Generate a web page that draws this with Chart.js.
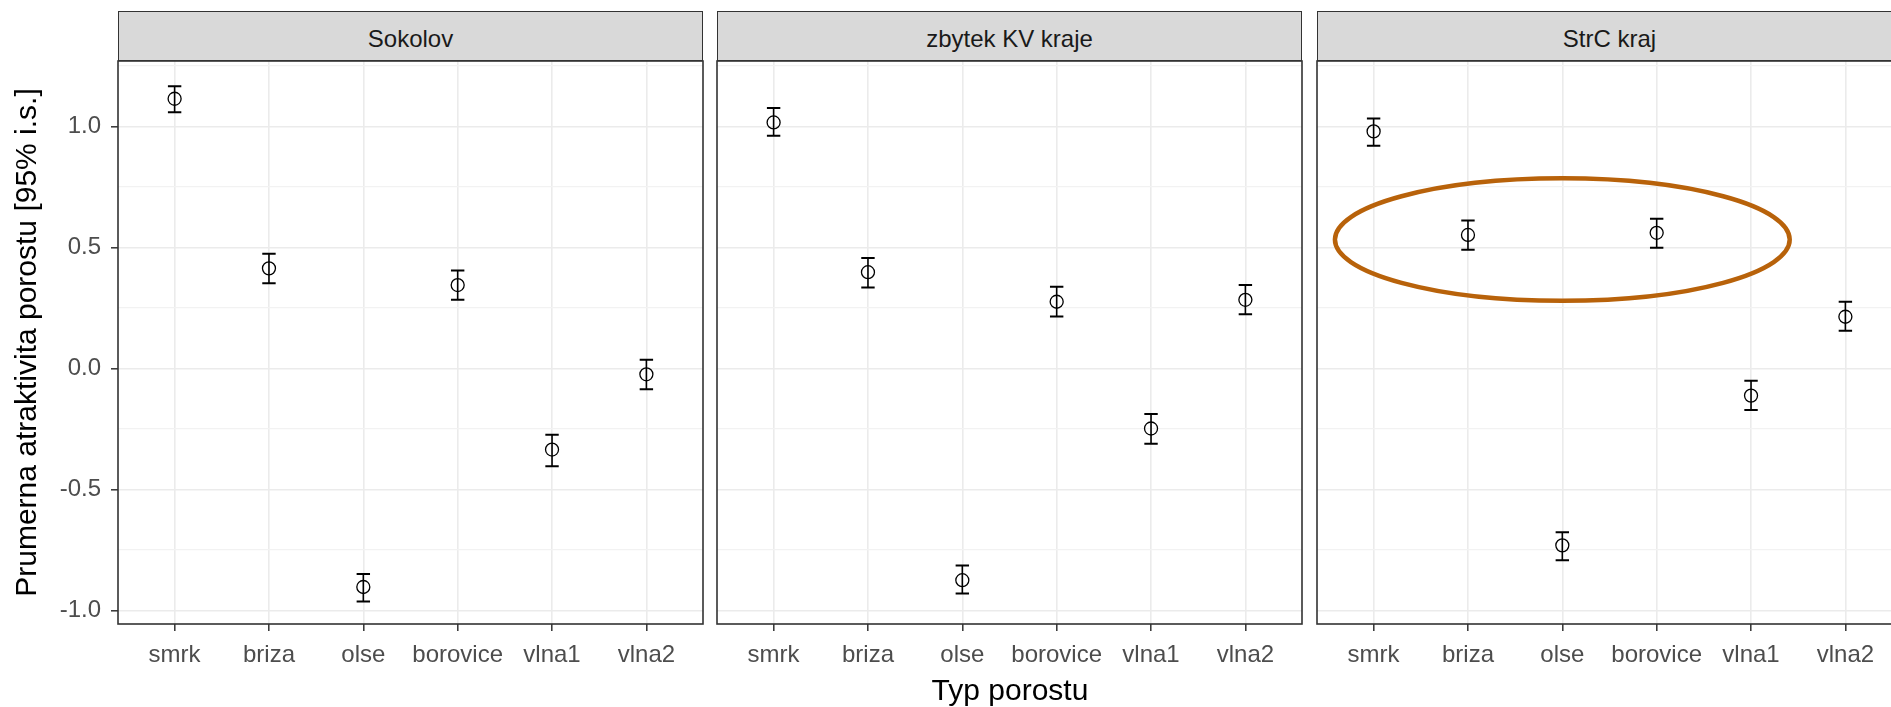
<!DOCTYPE html>
<html>
<head>
<meta charset="utf-8">
<script src="https://cdn.jsdelivr.net/npm/chart.js@4.4.1/dist/chart.umd.min.js"></script>
<style>
  html, body { margin: 0; padding: 0; background: #fff; overflow: hidden; }
  #wrap { position: relative; width: 1920px; height: 707px; }
  canvas { position: absolute; top: 0; }
  .strip {
    position: absolute; top: 11px; height: 50px; box-sizing: border-box;
    background: #D9D9D9; border: 1.5px solid #333;
    font-family: "Liberation Sans", Arial, sans-serif; font-size: 24px; color: #1A1A1A;
    text-align: center; line-height: 47px; padding-top: 3px; white-space: nowrap;
  }
  #xtitle {
    position: absolute; top: 675px; left: 118px; width: 1784px; text-align: center;
    font-family: "Liberation Sans", Arial, sans-serif; font-size: 30px; line-height: 30px; color: #000;
  }
</style>
</head>
<body>
<div id="wrap"></div>
<script>
// categories (x) and facets
const categories = ['smrk', 'briza', 'olse', 'borovice', 'vlna1', 'vlna2'];
const regions = ['Sokolov', 'zbytek KV kraje', 'StrC kraj'];

// means and 95% intervals
const meanSokolov  = [1.115, 0.414, -0.903, 0.345, -0.335, -0.024];
const lowerSokolov = [1.059, 0.352, -0.963, 0.284, -0.404, -0.086];
const upperSokolov = [1.167, 0.474, -0.849, 0.405, -0.274, 0.036];

const meanZbytek  = [1.017, 0.398, -0.875, 0.276, -0.248, 0.284];
const lowerZbytek = [0.962, 0.335, -0.930, 0.215, -0.311, 0.224];
const upperZbytek = [1.077, 0.457, -0.814, 0.338, -0.188, 0.345];

const meanStrC  = [0.980, 0.552, -0.731, 0.561, -0.112, 0.214];
const lowerStrC = [0.921, 0.491, -0.792, 0.499, -0.172, 0.156];
const upperStrC = [1.033, 0.612, -0.677, 0.619, -0.051, 0.276];

// y axis
const yTickValues = [-1, -0.5, 0, 0.5, 1];
const yTickLabels = ['-1.0', '-0.5', '0.0', '0.5', '1.0'];
const yMinorValues = [-0.75, -0.25, 0.25, 0.75, 1.25];
const yMin = -1.056, yMax = 1.271;

// hand-drawn highlight in the StrC panel (data units)
const highlightX = 2, highlightY = 0.533, highlightRx = 2.41, highlightRy = 0.253;

const yTitle = 'Prumerna atraktivita porostu [95% i.s.]';
const xTitle = 'Typ porostu';

const panelMeans = [meanSokolov, meanZbytek, meanStrC];
const panelLower = [lowerSokolov, lowerZbytek, lowerStrC];
const panelUpper = [upperSokolov, upperZbytek, upperStrC];

// layout
const panelLefts = [118, 717, 1317];
const panelWidth = 585;
const FONT = '"Liberation Sans", Arial, sans-serif';
const wrap = document.getElementById('wrap');

const isMajor = v => yTickValues.some(t => Math.abs(t - v) < 1e-9);

// error bars drawn through the scales
const errorBars = {
  id: 'errorBars',
  beforeDatasetsDraw(chart, args, opts) {
    const {ctx, scales: {x, y}} = chart;
    const lo = opts.lower, hi = opts.upper;
    ctx.save();
    ctx.strokeStyle = '#000';
    lo.forEach((l, k) => {
      const px = x.getPixelForValue(k);
      const yl = y.getPixelForValue(l), yh = y.getPixelForValue(hi[k]);
      ctx.lineWidth = 1.6;
      ctx.beginPath(); ctx.moveTo(px, yl); ctx.lineTo(px, yh); ctx.stroke();
      ctx.lineWidth = 2;
      ctx.beginPath();
      ctx.moveTo(px - 6.7, yl); ctx.lineTo(px + 6.7, yl);
      ctx.moveTo(px - 6.7, yh); ctx.lineTo(px + 6.7, yh);
      ctx.stroke();
    });
    ctx.restore();
  }
};

// panel border
const panelBorder = {
  id: 'panelBorder',
  afterDraw(chart) {
    const {ctx, chartArea: a} = chart;
    ctx.save();
    ctx.strokeStyle = '#333';
    ctx.lineWidth = 1.6;
    ctx.strokeRect(a.left, a.top, a.right - a.left, a.bottom - a.top);
    ctx.restore();
  }
};

// brown ellipse annotation
const highlight = {
  id: 'highlight',
  afterDraw(chart, args, opts) {
    if (!opts.show) return;
    const {ctx, scales: {x, y}} = chart;
    const cx = x.getPixelForValue(highlightX), cy = y.getPixelForValue(highlightY);
    const rx = x.getPixelForValue(highlightX + highlightRx) - cx;
    const ry = cy - y.getPixelForValue(highlightY + highlightRy);
    ctx.save();
    ctx.strokeStyle = '#B8620A';
    ctx.lineWidth = 4.5;
    ctx.beginPath();
    ctx.ellipse(cx, cy, rx, ry, 0, 0, Math.PI * 2);
    ctx.stroke();
    ctx.restore();
  }
};

regions.forEach((name, i) => {
  const first = i === 0;
  const leftExtra = first ? panelLefts[0] : 3;
  const canvas = document.createElement('canvas');
  canvas.width = leftExtra + panelWidth + 3;
  canvas.height = 707;
  canvas.style.left = (panelLefts[i] - leftExtra) + 'px';
  wrap.appendChild(canvas);

  const strip = document.createElement('div');
  strip.className = 'strip';
  strip.style.left = panelLefts[i] + 'px';
  strip.style.width = panelWidth + 'px';
  strip.textContent = name;
  wrap.appendChild(strip);

  new Chart(canvas.getContext('2d'), {
    type: 'scatter',
    data: {
      datasets: [{
        data: panelMeans[i].map((m, k) => ({x: k, y: m})),
        pointStyle: 'circle',
        pointRadius: 6.5,
        pointHoverRadius: 6.5,
        borderColor: '#000',
        borderWidth: 1.3,
        backgroundColor: 'rgba(0,0,0,0)'
      }]
    },
    options: {
      responsive: false,
      animation: false,
      events: [],
      layout: { autoPadding: false, padding: { top: 61, right: 3, bottom: 0, left: first ? 0 : 3 } },
      plugins: {
        legend: { display: false },
        tooltip: { enabled: false },
        errorBars: { lower: panelLower[i], upper: panelUpper[i] },
        highlight: { show: i === 2 }
      },
      scales: {
        x: {
          type: 'linear',
          min: -0.6,
          max: categories.length - 0.4,
          afterBuildTicks: s => { s.ticks = categories.map((c, k) => ({value: k})); },
          afterFit: s => { s.height = 83; },
          ticks: {
            autoSkip: false, maxRotation: 0,
            callback: v => categories[v],
            font: { family: FONT, size: 24 },
            color: '#4D4D4D',
            padding: 10
          },
          grid: { color: '#EBEBEB', lineWidth: 1.6, tickColor: '#333', tickLength: 7, tickWidth: 1.5 },
          border: { display: false }
        },
        y: {
          min: yMin,
          max: yMax,
          afterBuildTicks: s => { s.ticks = yTickValues.concat(yMinorValues).sort((a, b) => a - b).map(v => ({value: v})); },
          afterFit: s => { s.width = first ? panelLefts[0] : 0; },
          ticks: {
            display: first,
            callback: v => { const j = yTickValues.findIndex(t => Math.abs(t - v) < 1e-9); return j < 0 ? '' : yTickLabels[j]; },
            font: { family: FONT, size: 24 },
            color: '#4D4D4D',
            padding: 10
          },
          grid: {
            color: c => isMajor(c.tick.value) ? '#EBEBEB' : '#F2F2F2',
            lineWidth: c => isMajor(c.tick.value) ? 1.6 : 1.2,
            drawTicks: first,
            tickLength: 7,
            tickWidth: 1.5,
            tickColor: c => isMajor(c.tick.value) ? '#333' : 'rgba(0,0,0,0)'
          },
          border: { display: false },
          title: {
            display: first,
            text: yTitle,
            font: { family: FONT, size: 30 },
            color: '#000',
            padding: { top: 10, bottom: 0 }
          }
        }
      }
    },
    plugins: [errorBars, panelBorder, highlight]
  });
});

const xt = document.createElement('div');
xt.id = 'xtitle';
xt.textContent = xTitle;
wrap.appendChild(xt);
</script>
</body>
</html>
